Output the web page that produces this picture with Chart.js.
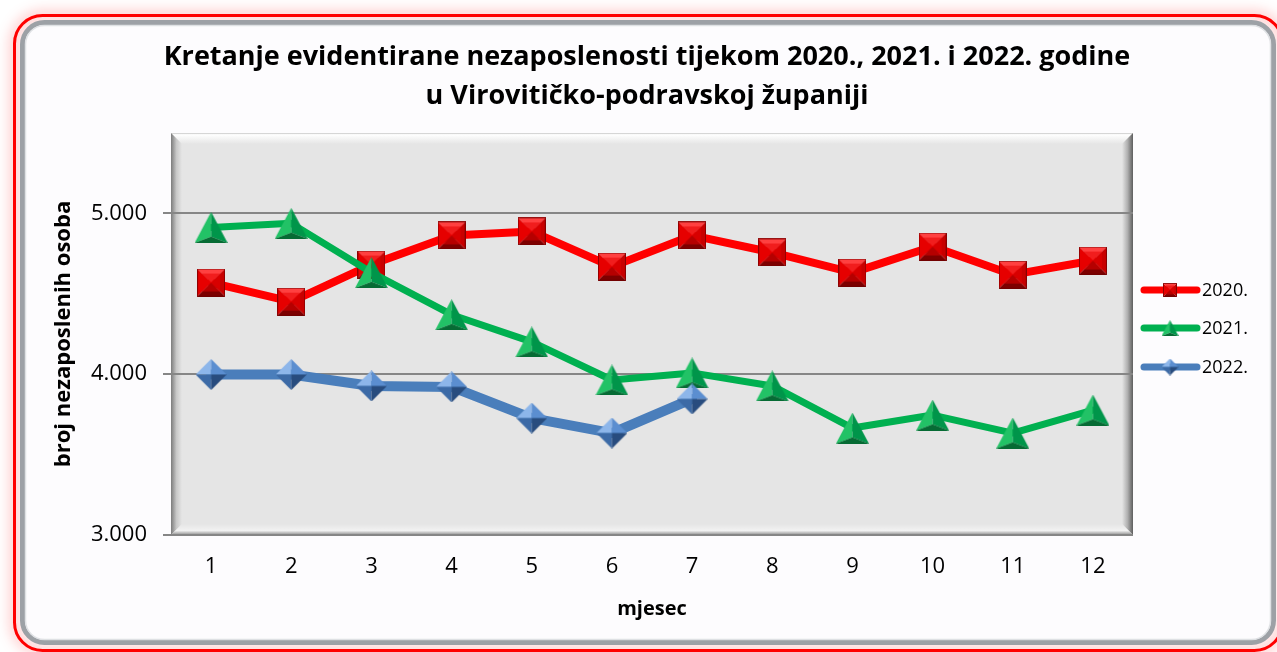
<!DOCTYPE html>
<html lang="hr">
<head>
  <meta charset="UTF-8" />
  <title>Kretanje evidentirane nezaposlenosti</title>
  <script src="https://cdn.jsdelivr.net/npm/chart.js"></script>
  <style>
    * { margin: 0; padding: 0; box-sizing: border-box; }
    body { background: #ffffff; }
    #wrap { position: relative; width: 1277px; height: 652px; }
  </style>
</head>
<body>
  <div id="wrap"><canvas id="chart"></canvas></div>

  <script>
    const months = ['1', '2', '3', '4', '5', '6', '7', '8', '9', '10', '11', '12'];
    const yearLabels = ['2020.', '2021.', '2022.'];
    const unemployed2020 = [4570, 4451, 4682, 4863, 4888, 4669, 4863, 4757, 4632, 4794, 4619, 4707];
    const unemployed2021 = [4913, 4938, 4632, 4370, 4201, 3964, 4008, 3927, 3665, 3746, 3634, 3777];
    const unemployed2022 = [3998, 3998, 3927, 3921, 3727, 3634, 3846];
    const yTicks = [3000, 4000, 5000];
    const titleLines = ['Kretanje evidentirane nezaposlenosti tijekom 2020., 2021. i 2022. godine',
                        'u Virovitičko-podravskoj županiji'];

    const FONT = '"Open Sans", "DejaVu Sans", sans-serif';

    // small 3D-looking markers drawn into offscreen canvases
    function facet(g, pts, color) {
      g.beginPath();
      g.moveTo(pts[0][0], pts[0][1]);
      for (let i = 1; i < pts.length; i++) g.lineTo(pts[i][0], pts[i][1]);
      g.closePath();
      g.fillStyle = color;
      g.fill();
    }

    function squareMarker(s) {
      const c = document.createElement('canvas');
      c.width = s; c.height = s;
      const g = c.getContext('2d');
      const m = s / 2;
      facet(g, [[0, 0], [s, 0], [m, m]], '#ff4040');
      facet(g, [[0, 0], [m, m], [0, s]], '#e60000');
      facet(g, [[s, 0], [s, s], [m, m]], '#c80000');
      facet(g, [[0, s], [m, m], [s, s]], '#7d0000');
      const k = s * 0.18;
      facet(g, [[k, k], [s - k, k], [s - k, s - k], [k, s - k]], 'rgba(230,0,0,0.55)');
      g.strokeStyle = 'rgba(110,0,0,0.7)';
      g.lineWidth = 1;
      g.strokeRect(0.5, 0.5, s - 1, s - 1);
      return c;
    }

    function triangleMarker(w, h) {
      const c = document.createElement('canvas');
      c.width = w; c.height = h;
      const g = c.getContext('2d');
      const top = [w / 2, 0], l = [0, h], r = [w, h], p = [w / 2, h * 0.8];
      facet(g, [top, l, p], '#22c266');
      facet(g, [top, p, r], '#00954a');
      facet(g, [l, r, p], '#066b34');
      return c;
    }

    function diamondMarker(s) {
      const c = document.createElement('canvas');
      c.width = s; c.height = s;
      const g = c.getContext('2d');
      const m = s / 2;
      facet(g, [[m, 0], [0, m], [m, m]], '#8db6ea');
      facet(g, [[m, 0], [m, m], [s, m]], '#5b8ed0');
      facet(g, [[0, m], [m, s], [m, m]], '#3c6aa6');
      facet(g, [[m, m], [m, s], [s, m]], '#284c7e');
      return c;
    }

    const markers = [squareMarker(28), triangleMarker(33, 31), diamondMarker(31)];
    const legendMarkers = [squareMarker(14), triangleMarker(17, 16), diamondMarker(17)];

    function roundRect(ctx, x, y, w, h, r) {
      ctx.beginPath();
      ctx.moveTo(x + r, y);
      ctx.arcTo(x + w, y, x + w, y + h, r);
      ctx.arcTo(x + w, y + h, x, y + h, r);
      ctx.arcTo(x, y + h, x, y, r);
      ctx.arcTo(x, y, x + w, y, r);
      ctx.closePath();
    }

    // frame, panel and bevelled plot area
    const framePlugin = {
      id: 'frame',
      beforeDraw(chart) {
        const ctx = chart.ctx;
        const a = chart.chartArea;
        ctx.save();
        ctx.fillStyle = '#ffffff';
        ctx.fillRect(0, 0, chart.width, chart.height);

        ctx.shadowColor = 'rgba(255,0,0,0.7)';
        ctx.shadowBlur = 14;
        roundRect(ctx, 14.5, 15.5, 1268, 635, 28);
        ctx.strokeStyle = '#ff0000';
        ctx.lineWidth = 3;
        ctx.stroke();
        ctx.shadowBlur = 0;
        ctx.shadowColor = 'transparent';

        roundRect(ctx, 22.5, 22.5, 1251, 620, 22);
        ctx.fillStyle = '#fdfcfe';
        ctx.fill();
        ctx.strokeStyle = '#9da1a6';
        ctx.lineWidth = 5;
        ctx.stroke();
        roundRect(ctx, 25.5, 25.5, 1245, 614, 19);
        ctx.strokeStyle = '#dfe1e4';
        ctx.lineWidth = 1.5;
        ctx.stroke();

        // plot area
        const x0 = a.left, y0 = a.top, x1 = a.right, y1 = a.bottom;
        ctx.fillStyle = '#e5e5e5';
        ctx.fillRect(x0, y0, x1 - x0, y1 - y0);
        const b = 11;
        let gr = ctx.createLinearGradient(0, y0, 0, y0 + b);
        gr.addColorStop(0, '#c4c4c4');
        gr.addColorStop(0.15, '#ffffff');
        gr.addColorStop(1, '#e5e5e5');
        facet(ctx, [[x0, y0], [x1, y0], [x1 - b, y0 + b], [x0 + b, y0 + b]], gr);
        gr = ctx.createLinearGradient(x0, 0, x0 + b, 0);
        gr.addColorStop(0, '#7c7c7c');
        gr.addColorStop(0.5, '#c8c8c8');
        gr.addColorStop(1, '#e5e5e5');
        facet(ctx, [[x0, y0], [x0 + b, y0 + b], [x0 + b, y1 - b], [x0, y1]], gr);
        gr = ctx.createLinearGradient(x1 - b, 0, x1, 0);
        gr.addColorStop(0, '#e5e5e5');
        gr.addColorStop(0.5, '#b0b0b0');
        gr.addColorStop(1, '#5e5e5e');
        facet(ctx, [[x1, y0], [x1, y1], [x1 - b, y1 - b], [x1 - b, y0 + b]], gr);
        gr = ctx.createLinearGradient(0, y1 - b, 0, y1);
        gr.addColorStop(0, '#e5e5e5');
        gr.addColorStop(0.6, '#f2f2f2');
        gr.addColorStop(1, '#8c8c8c');
        facet(ctx, [[x0, y1], [x0 + b, y1 - b], [x1 - b, y1 - b], [x1, y1]], gr);
        ctx.restore();
      },
      afterDraw(chart) {
        const ctx = chart.ctx;
        ctx.save();
        // title
        ctx.fillStyle = '#000000';
        ctx.textAlign = 'center';
        ctx.textBaseline = 'middle';
        ctx.font = 'bold 27px ' + FONT;
        ctx.fillText(titleLines[0], 647, 57);
        ctx.fillText(titleLines[1], 647, 96);

        // legend
        const rows = [290, 328, 367];
        chart.data.datasets.forEach((ds, i) => {
          const y = rows[i];
          ctx.strokeStyle = ds.borderColor;
          ctx.lineWidth = 7;
          ctx.lineCap = 'round';
          ctx.beginPath();
          ctx.moveTo(1144, y);
          ctx.lineTo(1197, y);
          ctx.stroke();
          const img = legendMarkers[i];
          ctx.drawImage(img, 1170 - img.width / 2, y - img.height / 2);
          ctx.fillStyle = '#000000';
          ctx.textAlign = 'left';
          ctx.font = '18px ' + FONT;
          ctx.fillText(ds.label, 1202, y + 1);
        });
        ctx.restore();
      }
    };

    const ctx = document.getElementById('chart').getContext('2d');

    new Chart(ctx, {
      type: 'line',
      data: {
        labels: months,
        datasets: [{
          label: yearLabels[0],
          data: unemployed2020,
          borderColor: '#ff0000',
          borderWidth: 8,
          pointStyle: markers[0],
          order: 3
        }, {
          label: yearLabels[1],
          data: unemployed2021,
          borderColor: '#00b050',
          borderWidth: 7,
          pointStyle: markers[1],
          order: 2
        }, {
          label: yearLabels[2],
          data: unemployed2022,
          borderColor: '#4a7ebb',
          borderWidth: 10,
          pointStyle: markers[2],
          order: 1
        }]
      },
      options: {
        responsive: true,
        maintainAspectRatio: false,
        animation: false,
        events: [],
        layout: { padding: { left: 40, right: 144, top: 133, bottom: 15 } },
        elements: { line: { tension: 0, borderJoinStyle: 'round', borderCapStyle: 'round' } },
        plugins: {
          legend: { display: false },
          title: { display: false },
          tooltip: { enabled: false }
        },
        scales: {
          x: {
            offset: true,
            grid: { display: false, drawTicks: false },
            border: { display: false },
            ticks: { color: '#000000', padding: 19, font: { family: FONT, size: 22 } },
            title: {
              display: true,
              text: 'mjesec',
              color: '#000000',
              font: { family: FONT, size: 20, weight: 'bold' },
              padding: { top: 0, bottom: 16 }
            },
            afterFit(scale) { scale.height = 102; }
          },
          y: {
            min: 3000,
            max: 5500,
            afterBuildTicks(scale) { scale.ticks = yTicks.map(v => ({ value: v })); },
            grid: { color: '#868686', lineWidth: 2, tickLength: 8, tickColor: '#868686' },
            border: { display: false },
            ticks: {
              color: '#000000',
              padding: 16,
              font: { family: FONT, size: 22 },
              callback: v => v.toLocaleString('de-DE')
            },
            title: {
              display: true,
              text: 'broj nezaposlenih osoba',
              color: '#000000',
              font: { family: FONT, size: 22, weight: 'bold' },
              padding: { top: 11, bottom: 0 }
            },
            afterFit(scale) { scale.width = 131; }
          }
        }
      },
      plugins: [framePlugin]
    });
  </script>
</body>
</html>
